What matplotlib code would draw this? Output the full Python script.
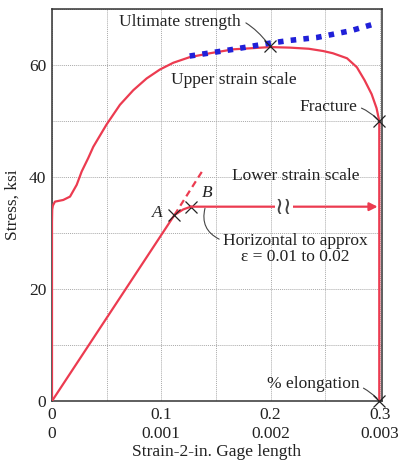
import matplotlib
matplotlib.use("Agg")
import matplotlib.pyplot as plt
from matplotlib.ticker import MultipleLocator

plt.rcParams["font.family"] = ["Liberation Serif", "DejaVu Serif"]

# upper strain scale curve (strain, stress ksi)
upper_strain = [0, 0, 0.0002, 0.0008, 0.0027, 0.0103, 0.0165, 0.0226, 0.0272,
                0.0332, 0.0378, 0.050, 0.0622, 0.0744, 0.0866, 0.0988, 0.111,
                0.126, 0.1446, 0.166, 0.1995, 0.218, 0.235, 0.248, 0.257,
                0.270, 0.279, 0.286, 0.2925, 0.297, 0.2995, 0.2995]
upper_stress = [0, 32, 34.2, 34.9, 35.6, 35.9, 36.5, 38.6, 41.0,
                43.4, 45.4, 49.4, 52.9, 55.5, 57.6, 59.2, 60.4,
                61.4, 62.1, 62.8, 63.2, 63.1, 62.9, 62.5, 62.1,
                61.2, 59.6, 57.3, 54.8, 52.3, 50.0, 0]

# dotted extension beyond ultimate strength
blue_strain = [0.126, 0.166, 0.1995, 0.218, 0.242, 0.273, 0.298]
blue_stress = [61.6, 62.8, 63.9, 64.4, 64.9, 66.1, 67.5]

# lower strain scale curve
lower_strain = [0, 0.00112, 0.0012, 0.00127]
lower_stress = [0, 33.2, 34.2, 34.7]
dash_strain = [0.00112, 0.00138]
dash_stress = [33.2, 41.2]
plateau_strain = [0.00127, 0.00298]
plateau_stress = [34.7, 34.7]
break_strain = 0.00212

upper_ticks = [0, 0.1, 0.2, 0.3]
lower_ticks = [0, 0.001, 0.002, 0.003]
stress_ticks = [0, 20, 40, 60]

red = "#ec3b50"
blue = "#2020d8"
ink = "#222222"

fig = plt.figure(figsize=(4.02, 4.65), dpi=100)
ax = fig.add_axes([52 / 402, 1 - 401 / 465, 330 / 402, 392 / 465])
ax.set_xlim(0, 0.302)
ax.set_ylim(0, 70)

ax.plot(upper_strain, upper_stress, color=red, lw=1.6, zorder=3)
ax.plot(blue_strain, blue_stress, color=blue, lw=4, linestyle=(0, (1, 1.3)),
        zorder=4)

ax2 = ax.twiny()
ax2.set_xlim(0, 0.00302)
ax2.set_ylim(0, 70)
ax2.axis("off")
ax2.plot(lower_strain, lower_stress, color=red, lw=1.6)
ax2.plot(dash_strain, dash_stress, color=red, lw=1.6, linestyle=(0, (3, 2)))
ax2.annotate("", xy=(plateau_strain[1], plateau_stress[1]),
             xytext=(plateau_strain[0], plateau_stress[0]),
             arrowprops=dict(arrowstyle="-|>", color=red, lw=1.6,
                             mutation_scale=12, shrinkA=0, shrinkB=0))
ax2.text(break_strain, plateau_stress[0], "≀≀", ha="center", va="center",
         fontsize=17, color="#444444", family="DejaVu Sans",
         bbox=dict(boxstyle="square,pad=0.0", fc="white", ec="none"))

# marked points
ax2.plot([lower_strain[1], lower_strain[3]], [lower_stress[1], lower_stress[3]],
         "x", color=ink, ms=8, mew=0.9)
ax.plot([0.1995, 0.2995, 0.2995], [63.4, 50.0, 0], "x", color=ink, ms=8,
        mew=0.9, zorder=5, clip_on=False)

ax.xaxis.set_minor_locator(MultipleLocator(0.05))
ax.yaxis.set_minor_locator(MultipleLocator(10))
ax.set_xticks(upper_ticks)
ax.set_xticklabels([f"{u:g}\n{l:g}" for u, l in zip(upper_ticks, lower_ticks)],
                   linespacing=1.25)
ax.set_yticks(stress_ticks)
ax.tick_params(which="both", length=0, labelsize=12.5, colors=ink, pad=4)
ax.grid(which="both", color="#aaaaaa", lw=0.7, linestyle=(0, (1, 1)))
ax.set_axisbelow(True)
for s in ax.spines.values():
    s.set_color("#333333")
    s.set_linewidth(1.1)

ax.set_xlabel("Strain-2-in. Gage length", fontsize=12.5, color=ink, labelpad=2)
ax.set_ylabel("Stress, ksi", fontsize=12.5, color=ink, labelpad=6)

fs = 12.5
conn = dict(arrowstyle="-", color="#444444", lw=0.8)
ax.annotate("Ultimate strength", xy=(0.1985, 63.6), xytext=(0.117, 67.7),
            ha="center", va="center", fontsize=fs, color=ink,
            arrowprops=dict(conn, connectionstyle="arc3,rad=-0.4",
                            shrinkA=2, shrinkB=1))
ax.text(0.166, 57.3, "Upper strain scale", ha="center", va="center",
        fontsize=fs, color=ink)
ax.annotate("Fracture", xy=(0.2985, 50.2), xytext=(0.253, 52.5),
            ha="center", va="center", fontsize=fs, color=ink,
            arrowprops=dict(conn, connectionstyle="arc3,rad=-0.3",
                            shrinkA=1, shrinkB=1))
ax.text(0.223, 40.2, "Lower strain scale", ha="center", va="center",
        fontsize=fs, color=ink)
ax.text(0.096, 33.6, "A", ha="center", va="center", fontsize=fs,
        style="italic", color=ink)
ax.text(0.142, 37.1, "B", ha="center", va="center", fontsize=fs,
        style="italic", color=ink)
ax.text(0.223, 27.2, "Horizontal to approx\nε = 0.01 to 0.02", ha="center",
        va="center", fontsize=fs, color=ink, linespacing=1.0)
ax.annotate("", xy=(0.140, 34.4), xytext=(0.153, 28.9),
            arrowprops=dict(conn, connectionstyle="arc3,rad=-0.4",
                            shrinkA=0, shrinkB=0))
ax.annotate("% elongation", xy=(0.2985, 0.3), xytext=(0.239, 3.0),
            ha="center", va="center", fontsize=fs, color=ink,
            arrowprops=dict(conn, connectionstyle="arc3,rad=-0.3",
                            shrinkA=1, shrinkB=1))

fig.savefig("out.png", dpi=100)
